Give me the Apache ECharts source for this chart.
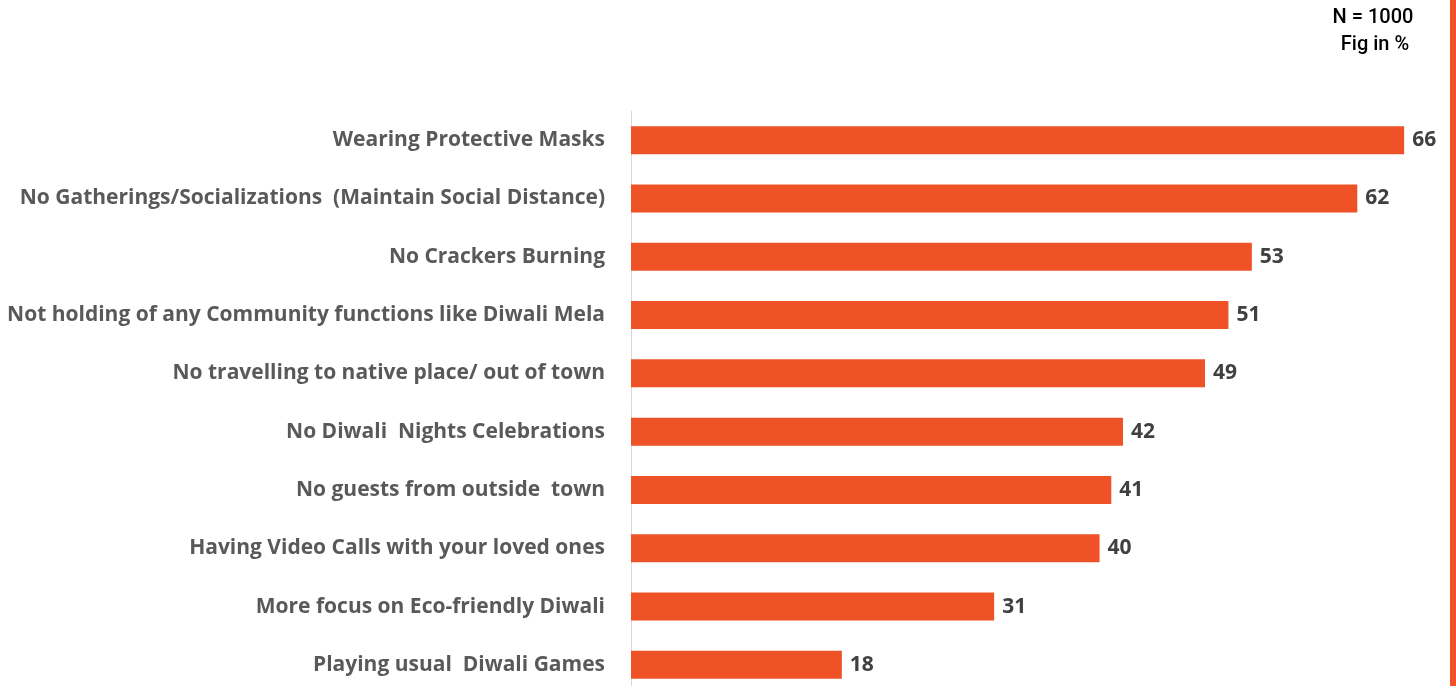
<!DOCTYPE html>
<html><head><meta charset="utf-8">
<script src="https://cdn.jsdelivr.net/npm/echarts@6/dist/echarts.min.js"></script>
<style>html,body{margin:0;padding:0;background:#fff;overflow:hidden}#c{width:1456px;height:694px}</style>
</head><body><div id="c"></div>
<script>
const categories = [
  "Wearing Protective Masks",
  "No Gatherings/Socializations  (Maintain Social Distance)",
  "No Crackers Burning",
  "Not holding of any Community functions like Diwali Mela",
  "No travelling to native place/ out of town",
  "No Diwali  Nights Celebrations",
  "No guests from outside  town",
  "Having Video Calls with your loved ones",
  "More focus on Eco-friendly Diwali",
  "Playing usual  Diwali Games"
];
const values = [66, 62, 53, 51, 49, 42, 41, 40, 31, 18];
const noteLines = ["N = 1000", "Fig in %"];

const chart = echarts.init(document.getElementById('c'), null, {renderer: 'canvas'});
chart.setOption({
  animation: false,
  grid: {left: 631, top: 111, bottom: 0, width: 820, containLabel: false},
  xAxis: {type: 'value', min: 0, max: 70, show: false},
  yAxis: {
    type: 'category', inverse: true, data: categories,
    axisLine: {show: true, lineStyle: {color: '#d9d9d9', width: 1}},
    axisTick: {show: false},
    axisLabel: {margin: 26, color: '#595959', fontFamily: 'Open Sans', fontWeight: 'bold', fontSize: 21}
  },
  series: [{
    type: 'bar', data: values, barWidth: 28,
    itemStyle: {color: '#F05228'},
    label: {show: true, position: 'right', distance: 8, color: '#404040', fontFamily: 'Open Sans', fontWeight: 'bold', fontSize: 21}
  }],
  graphic: [
    {type: 'text', x: 1373, y: 18, style: {text: noteLines[0], font: '500 20px Roboto', fill: '#000', textAlign: 'center', textVerticalAlign: 'middle'}},
    {type: 'text', x: 1375, y: 45, style: {text: noteLines[1], font: '500 20px Roboto', fill: '#000', textAlign: 'center', textVerticalAlign: 'middle'}},
    {type: 'rect', shape: {x: 1450, y: 0, width: 6, height: 694}, style: {fill: '#F05228'}}
  ]
});
</script></body></html>
